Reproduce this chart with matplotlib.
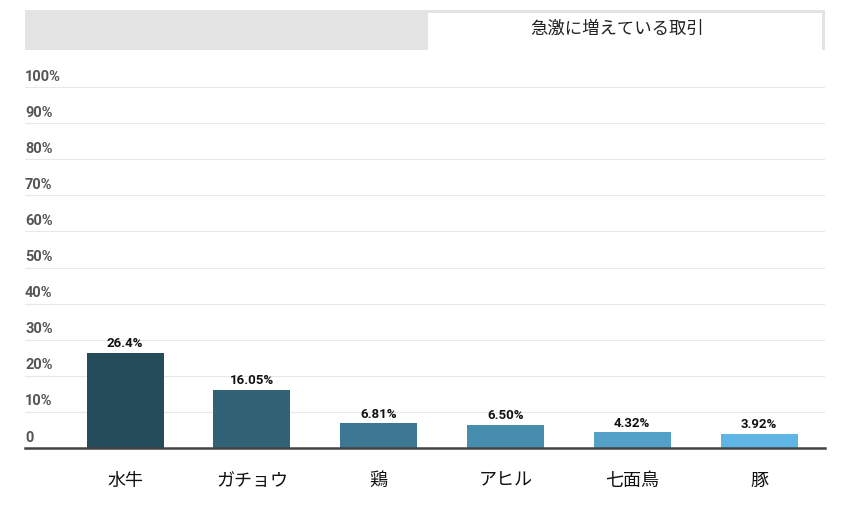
import matplotlib.pyplot as plt
from matplotlib.patches import Rectangle

plt.rcParams['font.family'] = ['Noto Sans CJK JP', 'DejaVu Sans']

# データ
categories = ["水牛", "ガチョウ", "鶏", "アヒル", "七面鳥", "豚"]
values = [26.4, 16.05, 6.81, 6.50, 4.32, 3.92]
value_labels = ["26.4%", "16.05%", "6.81%", "6.50%", "4.32%", "3.92%"]
yticks = [0, 10, 20, 30, 40, 50, 60, 70, 80, 90, 100]
ytick_labels = ["0", "10%", "20%", "30%", "40%", "50%", "60%", "70%", "80%", "90%", "100%"]
tab_title = "急激に増えている取引"

colors = ["#244c5a", "#316276", "#3c7893", "#478dae", "#53a1c9", "#5fb5e3"]

W, H = 849, 505
fig = plt.figure(figsize=(W / 100, H / 100), dpi=100)

# 軸領域 (ピクセル指定)
left, right, top, base = 25, 825, 87, 448
ax = fig.add_axes([left / W, (H - base) / H, (right - left) / W, (base - top) / H])

x = list(range(len(categories)))
ax.bar(x, values, width=0.607, color=colors, zorder=3)
ax.set_xlim(-0.789, 5.52)
ax.set_ylim(0, 100)

for xi, v, lab in zip(x, values, value_labels):
    ax.annotate(lab, (xi, v), xytext=(0, 2), textcoords="offset points",
                ha="center", va="bottom", fontsize=9.5, fontweight="bold",
                family=["Roboto", "DejaVu Sans"], color="#111111")

# グリッド
for t in yticks[1:]:
    ax.axhline(t, color="#e8e8e8", lw=0.8, zorder=1)
for t, lab in zip(yticks, ytick_labels):
    ax.annotate(lab, (0, t), xycoords=("axes fraction", "data"),
                xytext=(0, 2.5), textcoords="offset points",
                ha="left", va="bottom", fontsize=10.5, fontweight="bold",
                family=["Roboto", "DejaVu Sans"], color="#555555")

ax.set_yticks([])
ax.set_xticks(x)
ax.set_xticklabels(categories, fontsize=13, color="#111111")
ax.tick_params(axis="x", length=0, pad=17)
for s in ["top", "right", "left"]:
    ax.spines[s].set_visible(False)
ax.spines["bottom"].set_color("#444444")
ax.spines["bottom"].set_linewidth(1.8)
ax.spines["bottom"].set_zorder(4)

# 上部タブ
fig.patches.append(Rectangle((25 / W, (H - 50) / H), 800 / W, 40 / H,
                             transform=fig.transFigure, facecolor="#e4e4e4",
                             edgecolor="none"))
fig.patches.append(Rectangle((428 / W, (H - 50) / H), 394 / W, 37 / H,
                             transform=fig.transFigure, facecolor="white",
                             edgecolor="none"))
fig.text(617 / W, (H - 29) / H, tab_title, ha="center", va="center",
         fontsize=12.5, color="#222222")

fig.savefig("out.png", dpi=100)
